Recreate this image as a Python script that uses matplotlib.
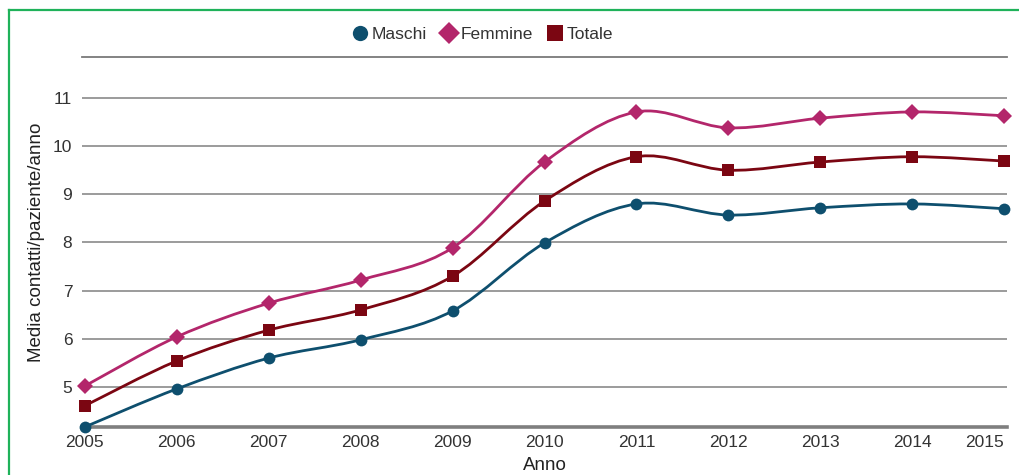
import matplotlib
matplotlib.use("Agg")
import matplotlib.pyplot as plt
from matplotlib.path import Path
from matplotlib.patches import PathPatch
from matplotlib.lines import Line2D
import numpy as np

plt.rcParams['font.family'] = ['Liberation Sans Narrow', 'Liberation Sans', 'DejaVu Sans']

anni = [2005, 2006, 2007, 2008, 2009, 2010, 2011, 2012, 2013, 2014, 2015]
maschi = [4.17, 4.96, 5.60, 5.98, 6.58, 7.99, 8.80, 8.57, 8.72, 8.80, 8.70]
femmine = [5.02, 6.04, 6.74, 7.22, 7.89, 9.67, 10.71, 10.38, 10.58, 10.71, 10.63]
totale = [4.61, 5.54, 6.18, 6.60, 7.30, 8.86, 9.78, 9.50, 9.67, 9.78, 9.69]
y_ticks = [5, 6, 7, 8, 9, 10, 11]

serie = [
    ("Maschi", maschi, "#0e4f6e", "o"),
    ("Femmine", femmine, "#b3266b", "D"),
    ("Totale", totale, "#7b0612", "s"),
]


def smooth_path(x, y):
    """Bezier path through every point (Catmull-Rom style tangents)."""
    x = np.asarray(x, float)
    y = np.asarray(y, float)
    n = len(x)
    verts = [(x[0], y[0])]
    codes = [Path.MOVETO]
    for i in range(n - 1):
        i0 = max(i - 1, 0)
        i3 = min(i + 2, n - 1)
        c1 = (x[i] + (x[i + 1] - x[i0]) / 6, y[i] + (y[i + 1] - y[i0]) / 6)
        c2 = (x[i + 1] - (x[i3] - x[i]) / 6, y[i + 1] - (y[i3] - y[i]) / 6)
        verts += [c1, c2, (x[i + 1], y[i + 1])]
        codes += [Path.CURVE4] * 3
    return Path(verts, codes)


fig = plt.figure(figsize=(10.2, 4.75), dpi=100)
ax = fig.add_axes([0.0804, 0.1011, 0.9069, 0.7789])

ax.set_xlim(2004.97, 2015.03)
ax.set_ylim(4.17, 11.85)

for t in y_ticks:
    ax.axhline(t, color="#8a8a8a", lw=1.2, zorder=1)
ax.axhline(11.85, color="#7a7a7a", lw=1.3, zorder=1, clip_on=False)

for s in ["top", "right", "left"]:
    ax.spines[s].set_visible(False)
ax.spines["bottom"].set_color("#7f7f7f")
ax.spines["bottom"].set_linewidth(2.6)
ax.spines["bottom"].set_zorder(2)

handles = []
for nome, vals, col, mk in serie:
    patch = PathPatch(smooth_path(anni, vals), facecolor="none", edgecolor=col,
                      lw=2.0, zorder=3, capstyle="round", joinstyle="round")
    ax.add_patch(patch)
    msz = 8.0 if mk == "s" else 8.5
    ax.plot(anni, vals, linestyle="none", marker=mk, color=col, markersize=msz,
            markeredgewidth=0, zorder=4, clip_on=False)
    h, = ax.plot([], [], linestyle="none", marker=mk, color=col,
                 markersize=11 if mk != "D" else 11.5, markeredgewidth=0, label=nome)
    handles.append(h)

ax.set_xticks(anni)
ax.set_xticklabels([str(a) for a in anni])
ax.set_yticks(y_ticks)
ax.set_yticklabels([str(t) for t in y_ticks])
ax.tick_params(axis="both", length=0, labelsize=12.5, colors="#333333")
ax.tick_params(axis="x", pad=6)
ax.tick_params(axis="y", pad=7)
ax.get_xticklabels()[-1].set_horizontalalignment("right")
ax.get_xticklabels()[-1].set_x(2015.03)

ax.set_xlabel("Anno", fontsize=13.5, color="#222222", labelpad=5)
ax.set_ylabel("Media contatti/paziente/anno", fontsize=13.5, color="#222222", labelpad=6)

fig.legend(handles=handles, loc="center", bbox_to_anchor=(0.472, 0.928), ncol=3,
           frameon=False, fontsize=12.5, handletextpad=0.05, columnspacing=0.7,
           handlelength=1.2, labelcolor="#333333")

green = "#1fb25a"
fig.add_artist(Line2D([9 / 1020, 9 / 1020], [-0.02, 1 - 10 / 475],
                      transform=fig.transFigure, color=green, lw=1.6))
fig.add_artist(Line2D([9 / 1020, 1.02], [1 - 10 / 475, 1 - 10 / 475],
                      transform=fig.transFigure, color=green, lw=1.6))

fig.savefig("out.png", dpi=100)
